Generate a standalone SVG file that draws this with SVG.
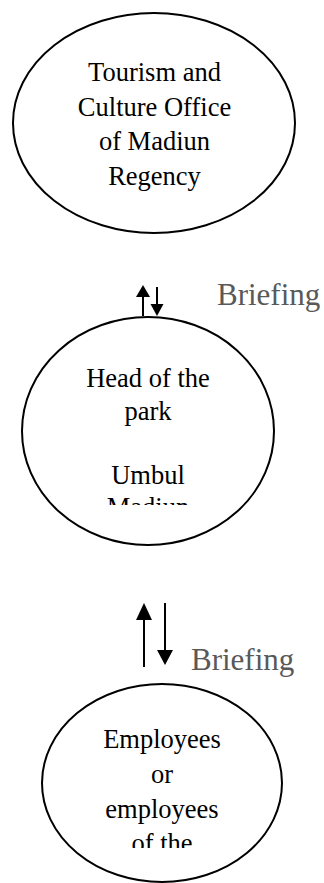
<svg xmlns="http://www.w3.org/2000/svg" width="324" height="883" viewBox="0 0 324 883">
<style>
.node{fill:#fff;stroke:#000;stroke-width:2}
.t{font-family:'Liberation Serif',serif;font-size:26.5px;fill:#000;text-anchor:middle}
.lbl{font-family:'Liberation Serif',serif;font-size:31px;fill:#595959}
.ar{stroke:#000;stroke-width:2;fill:none}
.hd{fill:#000}
</style>
<defs>
<clipPath id="c2"><rect x="0" y="340" width="324" height="165"/></clipPath>
<clipPath id="c3"><rect x="0" y="700" width="324" height="148"/></clipPath>
</defs>
<rect width="324" height="883" fill="#fff"/>
<g id="node-office">
<ellipse class="node" cx="154" cy="123" rx="141" ry="110"/>
<text class="t" x="154.5" y="81">Tourism and</text>
<text class="t" x="154.5" y="116">Culture Office</text>
<text class="t" x="154.5" y="150">of Madiun</text>
<text class="t" x="154.5" y="185">Regency</text>
</g>
<g id="node-head">
<ellipse class="node" cx="148" cy="431" rx="126" ry="114"/>
<g clip-path="url(#c2)">
<text class="t" x="148" y="387">Head of the</text>
<text class="t" x="148" y="420">park</text>
<text class="t" x="148" y="484">Umbul</text>
<text class="t" x="148" y="516">Madiun</text>
</g>
</g>
<g id="node-employees">
<ellipse class="node" cx="162" cy="783" rx="120" ry="99"/>
<g clip-path="url(#c3)">
<text class="t" x="162" y="748">Employees</text>
<text class="t" x="162" y="783">or</text>
<text class="t" x="162" y="818">employees</text>
<text class="t" x="162" y="852">of the</text>
</g>
</g>
<g id="connectors">
<line class="ar" x1="143" y1="296" x2="143" y2="316"/>
<polygon class="hd" points="143,285 136,297 150,297"/>
<line class="ar" x1="157" y1="287" x2="157" y2="305"/>
<polygon class="hd" points="157,316 150.5,304 163.5,304"/>
<text class="lbl" x="217" y="305">Briefing</text>
<line class="ar" x1="144" y1="618" x2="144" y2="667"/>
<polygon class="hd" points="144,603 136,620 152,620"/>
<line class="ar" x1="165" y1="603" x2="165" y2="651"/>
<polygon class="hd" points="165,665 157,650 173,650"/>
<text class="lbl" x="191" y="670">Briefing</text>
</g>
</svg>
